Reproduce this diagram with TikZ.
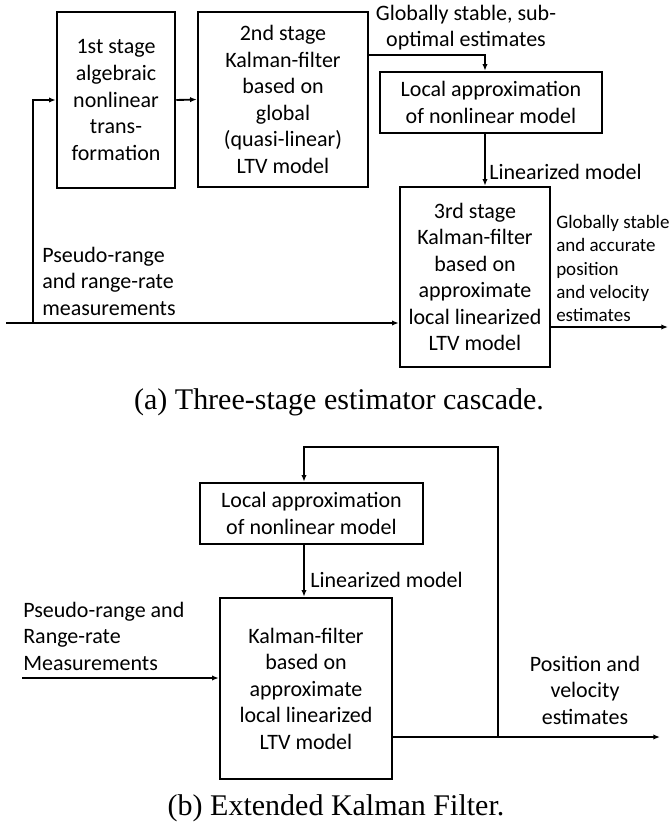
\documentclass[tikz,border=0pt]{standalone}
\usepackage{fontspec}
\setmainfont{Carlito}
\newfontfamily\capfont{Liberation Serif}
\usepackage{tikz}
\usetikzlibrary{arrows.meta}

\tikzset{
  blk/.style={draw, line width=1.9pt, align=center, inner sep=0pt, font=\fontsize{16.5}{19.9}\selectfont},
  lbl/.style={inner sep=0pt, font=\fontsize{16.5}{19.9}\selectfont},
  sml/.style={inner sep=0pt, align=left, font=\fontsize{14.25}{17.4}\selectfont},
  capt/.style={inner sep=0pt, font=\capfont\fontsize{22.5}{27}\selectfont},
  flow/.style={line width=1.4pt, -{Latex[length=5pt,width=4pt]}},
}

\begin{document}
\begin{tikzpicture}[x=0.75pt,y=0.75pt,yscale=-1,xscale=1]
\useasboundingbox (0,0) rectangle (670,829);

%Shape: Rectangle [(a) cascade]
\node [blk, minimum width=88.5pt, minimum height=132pt] (s1) at (116,100) {1st stage\\algebraic\\nonlinear\\trans-\\formation};
\node [blk, minimum width=127.5pt, minimum height=131.25pt] (s2) at (283,99.5) {2nd stage\\Kalman-filter\\based on\\global\\(quasi-linear)\\LTV model};
\node [blk, minimum width=166.5pt, minimum height=45.75pt] (locA) at (491,102.5) {Local approximation\\of nonlinear model};
\node [blk, minimum width=112.5pt, minimum height=135pt] (s3) at (475,277) {3rd stage\\Kalman-filter\\based on\\approximate\\local linearized\\LTV model};

\coordinate (inA) at (6,323);
\coordinate (jA) at (33,323);
\coordinate (t2) at (485,55);
\coordinate (outA) at (668,327);

\draw [flow] (inA) -- (inA -| s3.west);
\draw [flow] (jA) |- (s1.west);
\draw [flow] (s1.east) -- (s2.west);
\draw [flow] (s2.east |- t2) -| (t2 |- locA.north);
\draw [flow] (t2 |- locA.south) -- (t2 |- s3.north);
\draw [flow] (s3.east |- outA) -- (outA);

% Text Node
\node [lbl, align=center] (gs) at (466,27.5) {Globally stable, sub-\\optimal estimates};
\node [lbl, anchor=west] (lmA) at (489,172) {Linearized model};
\node [lbl, align=left, anchor=west] (msA) at (42,281) {Pseudo-range\\and range-rate\\measurements};
\node [sml, anchor=west] (estA) at (556,268.5) {Globally stable\\and accurate\\position\\and velocity\\estimates};
\node [capt] (capA) at (339,402) {(a) Three-stage estimator cascade.};

%Shape: Rectangle [(b) EKF]
\node [blk, minimum width=167.25pt, minimum height=45.75pt] (locB) at (311.5,513.5) {Local approximation\\of nonlinear model};
\node [blk, minimum width=129pt, minimum height=135.75pt] (kf) at (306,688.5) {Kalman-filter\\based on\\approximate\\local linearized\\LTV model};

\coordinate (inB) at (22,678);
\coordinate (jB) at (498,737);
\coordinate (topB) at (304,447);
\coordinate (outB) at (660,737);

\draw [flow] (inB) -- (inB -| kf.west);
\draw [flow] (kf.east |- outB) -- (outB);
\draw [flow] (jB) -- (jB |- topB) -- (topB) -- (topB |- locB.north);
\draw [flow] (topB |- locB.south) -- (topB |- kf.north);

% Text Node
\node [lbl, anchor=west] (lmB) at (310,580) {Linearized model};
\node [lbl, align=left, anchor=west] (msB) at (23,636) {Pseudo-range and\\Range-rate\\Measurements};
\node [lbl, align=center] (estB) at (585,690) {Position and\\velocity\\estimates};
\node [capt] (capB) at (336,808) {(b) Extended Kalman Filter.};

\end{tikzpicture}
\end{document}
